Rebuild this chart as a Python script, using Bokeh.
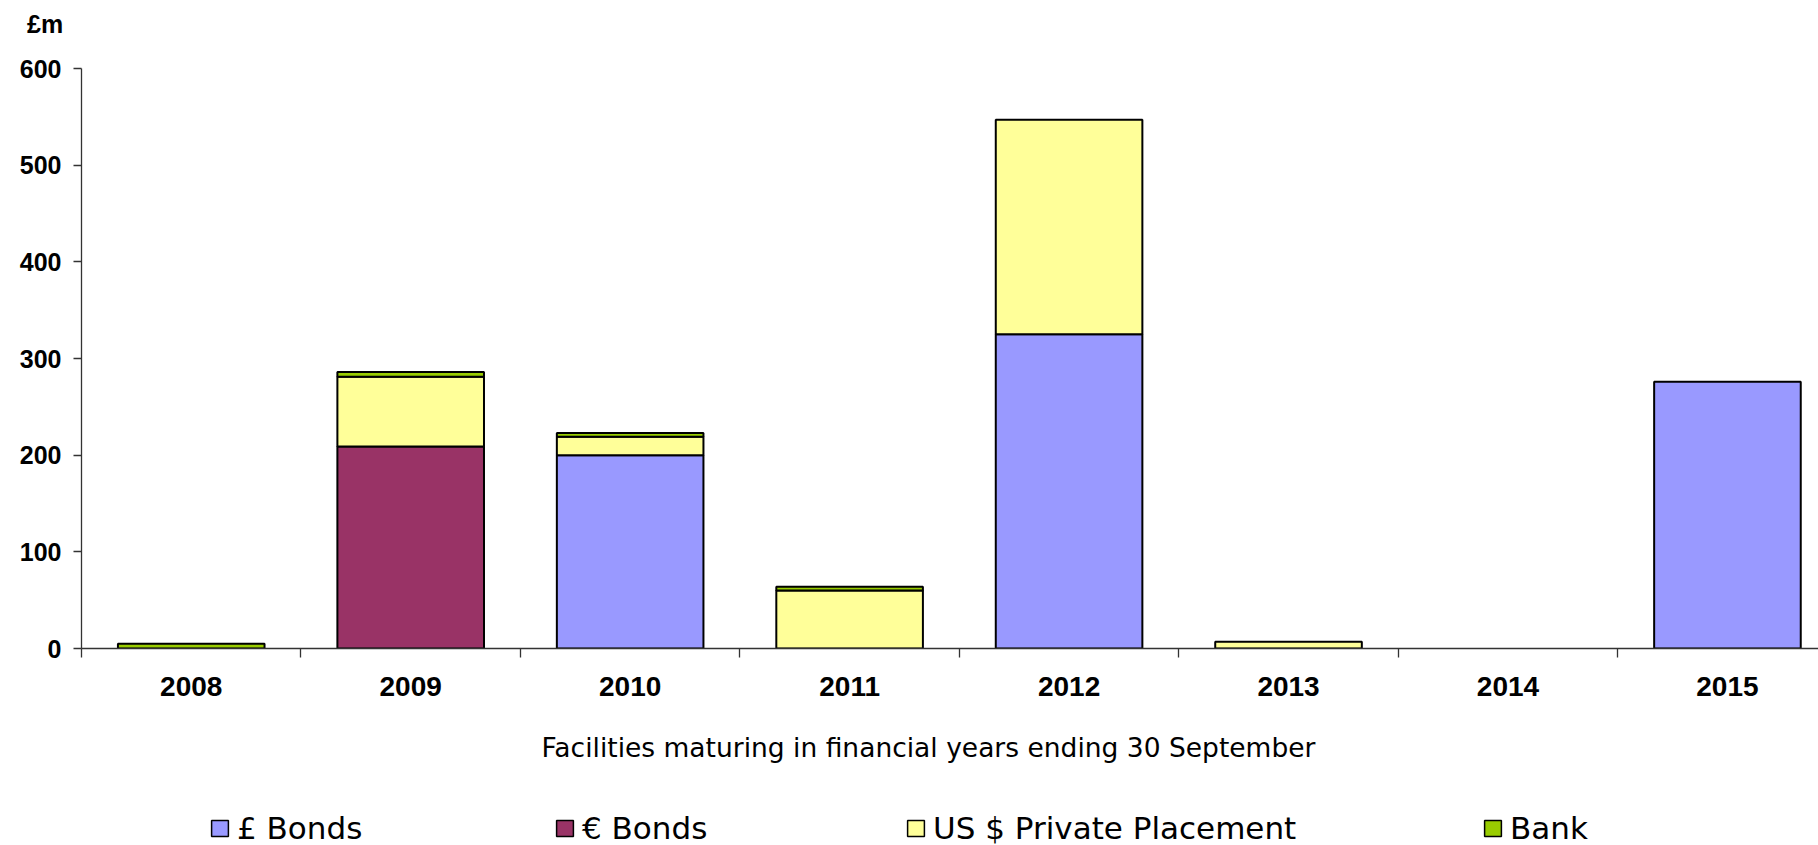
import numpy as np
from bokeh.plotting import figure
from bokeh.layouts import column
from bokeh.models import (Range1d, FixedTicker, Legend, LegendItem, Label,
                          ColumnDataSource, Div)
from bokeh.embed import file_html
from bokeh.resources import INLINE

# ---- data (GBP millions) ----
years = ["2008", "2009", "2010", "2011", "2012", "2013", "2014", "2015"]
gbp_bonds = [0, 0, 200, 0, 325, 0, 0, 276]
eur_bonds = [0, 209, 0, 0, 0, 0, 0, 0]
us_private_placement = [0, 72, 19, 60, 222, 7, 0, 0]
bank = [5, 5, 4, 4, 0, 0, 0, 0]
series_names = ["£ Bonds", "€ Bonds", "US $ Private Placement", "Bank"]
series_colors = ["#9999FF", "#993366", "#FFFF99", "#99CC00"]
y_ticks = [0, 100, 200, 300, 400, 500, 600]

series = [gbp_bonds, eur_bonds, us_private_placement, bank]
n = len(years)
centers = [i + 0.5 for i in range(n)]
cat_px = 219.46

# ---- unit label strip ----
unit = Div(text="£m", width=1818, height=48, margin=0,
           styles={"font-family": "Liberation Sans", "font-weight": "bold",
                   "font-size": "25px", "line-height": "48px", "padding-left": "27px",
                   "color": "black", "box-sizing": "border-box"})

# ---- main chart ----
p = figure(width=1818, height=660, output_backend="svg", toolbar_location=None,
           x_range=Range1d(0, 1737 / cat_px), y_range=Range1d(0, 600),
           min_border_left=81, min_border_right=0, min_border_top=20, min_border_bottom=60)
p.outline_line_color = None
p.xgrid.visible = False
p.ygrid.visible = False
p.background_fill_color = "white"

bottom = np.zeros(n)
sources = []
for vals, name, col in zip(series, series_names, series_colors):
    vals = np.array(vals, dtype=float)
    mask = vals > 0
    src = ColumnDataSource(dict(x=np.array(centers)[mask], bottom=bottom[mask],
                                top=(bottom + vals)[mask]))
    p.vbar(x="x", bottom="bottom", top="top", width=0.668, source=src,
           fill_color=col, line_color="black", line_width=2)
    sources.append(src)
    bottom = bottom + vals

axis_col = "#333333"
xa = p.xaxis[0]
xa.ticker = FixedTicker(ticks=centers, minor_ticks=list(range(n)))
xa.major_label_overrides = {float(c): y for c, y in zip(centers, years)}
xa.major_tick_line_color = None
xa.minor_tick_out = 9
xa.minor_tick_in = 0
xa.minor_tick_line_color = axis_col
xa.minor_tick_line_width = 1.3
xa.axis_line_color = axis_col
xa.axis_line_width = 1.3
xa.major_label_text_font = "Liberation Sans"
xa.major_label_text_font_style = "bold"
xa.major_label_text_font_size = "28px"
xa.major_label_text_color = "black"
xa.major_label_standoff = 19

ya = p.yaxis[0]
ya.ticker = FixedTicker(ticks=y_ticks)
ya.major_tick_out = 8
ya.major_tick_in = 0
ya.minor_tick_line_color = None
ya.major_tick_line_color = axis_col
ya.major_tick_line_width = 1.3
ya.axis_line_color = axis_col
ya.axis_line_width = 1.3
ya.major_label_text_font = "Liberation Sans"
ya.major_label_text_font_style = "bold"
ya.major_label_text_font_size = "25px"
ya.major_label_text_color = "black"
ya.major_label_standoff = 12

# ---- axis title + legend strip ----
pl = figure(width=1818, height=137, output_backend="svg", toolbar_location=None,
            x_range=Range1d(-101, -100), y_range=Range1d(2000, 3000),
            x_axis_type=None, y_axis_type=None,
            min_border_left=81, min_border_right=0, min_border_top=0, min_border_bottom=0)
pl.outline_line_color = None
pl.xgrid.visible = False
pl.ygrid.visible = False

pl.add_layout(Label(x=928 - 81, y=98, x_units="screen", y_units="screen",
                    text="Facilities maturing in financial years ending 30 September",
                    text_font="DejaVu Sans", text_font_size="26.5px", text_align="center",
                    text_baseline="alphabetic", text_color="black"))

legend_left = [209, 554, 905, 1482]
for src, name, col, lx in zip(sources, series_names, series_colors, legend_left):
    # same data as the chart; this strip's ranges keep the bars out of view,
    # the renderers only supply the legend keys
    r = pl.vbar(x="x", bottom="bottom", top="top", width=0.5, source=src,
                fill_color=col, line_color="black", line_width=1.5)
    lg = Legend(items=[LegendItem(label=name, renderers=[r])],
                location=(lx - 81, -1), orientation="horizontal",
                glyph_width=21, glyph_height=20, label_standoff=7, label_height=20,
                label_text_font="DejaVu Sans", label_text_font_size="31px",
                label_text_color="black", padding=0, margin=0, spacing=0,
                border_line_color=None, background_fill_alpha=0)
    pl.add_layout(lg, "center")

open("out.html", "w").write(file_html(column(unit, p, pl, spacing=0), INLINE))
